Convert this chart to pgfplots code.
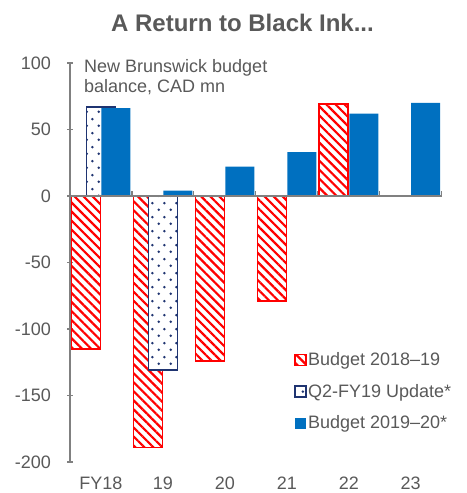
\documentclass[border=0pt]{standalone}
\usepackage{fontspec}
\setmainfont{Liberation Sans}
\usepackage{pgfplots}
\pgfplotsset{compat=1.18}
\usetikzlibrary{patterns.meta}
\definecolor{txt}{HTML}{595959}
\definecolor{axgray}{HTML}{808080}
\definecolor{bred}{HTML}{FF0000}
\definecolor{navy}{HTML}{1F3471}
\definecolor{bblue}{HTML}{0070C0}
\pgfdeclarepatternformonly{sdots}{\pgfqpoint{0bp}{0bp}}{\pgfqpoint{12bp}{14bp}}{\pgfqpoint{12bp}{14bp}}{%
  \pgfpathcircle{\pgfqpoint{3bp}{3.5bp}}{1.5bp}%
  \pgfpathcircle{\pgfqpoint{9bp}{10.5bp}}{1.5bp}%
  \pgfusepath{fill}}
\pgfplotsset{
  sqlegend/.style={legend image code/.code={\draw[##1, line width=1.2bp] (0bp,-5.5bp) rectangle (11bp,5.5bp);}},
  sqfilllegend/.style={legend image code/.code={\fill[##1] (0bp,-5.5bp) rectangle (11bp,5.5bp);}},
}
\begin{document}
\begin{tikzpicture}
\begin{axis}[
  scale only axis, width=371.7bp, height=399bp,
  clip=false,
  xmin=-0.5, xmax=5.5, ymin=-200, ymax=100,
  axis y line*=left, axis x line*=bottom,
  x axis line style={draw=none},
  y axis line style={axgray, line width=1.2bp},
  ytick={-200,-150,-100,-50,0,50,100},
  xtick={0,1,2,3,4,5}, xticklabels={FY18,19,20,21,22,23},
  xtick style={draw=none},
  ytick style={axgray, line width=1.2bp},
  tick align=center, major tick length=5bp,
  tick label style={font=\fontsize{18bp}{20bp}\selectfont, text=txt, inner sep=0pt},
  /pgf/number format/assume math mode=true,
  xticklabel style={anchor=north, yshift=-12.5bp},
  yticklabel style={anchor=east, xshift=-16.5bp},
  legend style={at={(0.603,0.278)}, anchor=north west, draw=none, fill=none,
    font=\fontsize{18bp}{20bp}\selectfont, text=txt, row sep=14bp, inner sep=0pt,
    nodes={inner sep=1.5bp}},
  legend cell align=left,
]
\addplot[ybar, bar width=29bp, bar shift=-15bp, draw=bred, line width=1.6bp,
  pattern={Lines[angle=-45,distance=6.4bp,line width=2.2bp]}, pattern color=bred, sqlegend]
  coordinates {(0,-115) (1,-189) (2,-124) (3,-79) (4,69)};
\addlegendentry{Budget 2018–19}
\addplot[ybar, bar width=29bp, bar shift=0bp, draw=navy, line width=1.6bp, fill=white,
  postaction={pattern=sdots, pattern color=navy}, sqlegend]
  coordinates {(0,67) (1,-131)};
\addlegendentry{Q2-FY19 Update*}
\addplot[ybar, bar width=29bp, bar shift=15bp, draw=none, fill=bblue, sqfilllegend]
  coordinates {(0,66) (1,4) (2,22) (3,33) (4,62) (5,70)};
\addlegendentry{Budget 2019–20*}
\draw[axgray, line width=1.2bp] (axis cs:-0.5,0) -- (axis cs:5.5,0);
\pgfplotsinvokeforeach{0.5,1.5,2.5,3.5,4.5,5.5}{
  \draw[axgray, line width=1.2bp] (axis cs:#1,0) -- ([yshift=5bp]axis cs:#1,0);
}
\node[anchor=north west, inner sep=0pt, align=left, text=txt,
  font=\fontsize{18bp}{20bp}\selectfont] at (rel axis cs:0.0377,1.0088)
  {New Brunswick budget\\balance, CAD mn};
\node[anchor=base, inner sep=0pt, text=txt,
  font=\fontsize{24bp}{28bp}\selectfont\bfseries] at (rel axis cs:0.464,1.0777)
  {A Return to Black Ink...};
\end{axis}
\pgfresetboundingbox
\path (current axis.south west) ++(-70bp,-31bp) rectangle ++(467bp,493bp);
\end{tikzpicture}
\end{document}
